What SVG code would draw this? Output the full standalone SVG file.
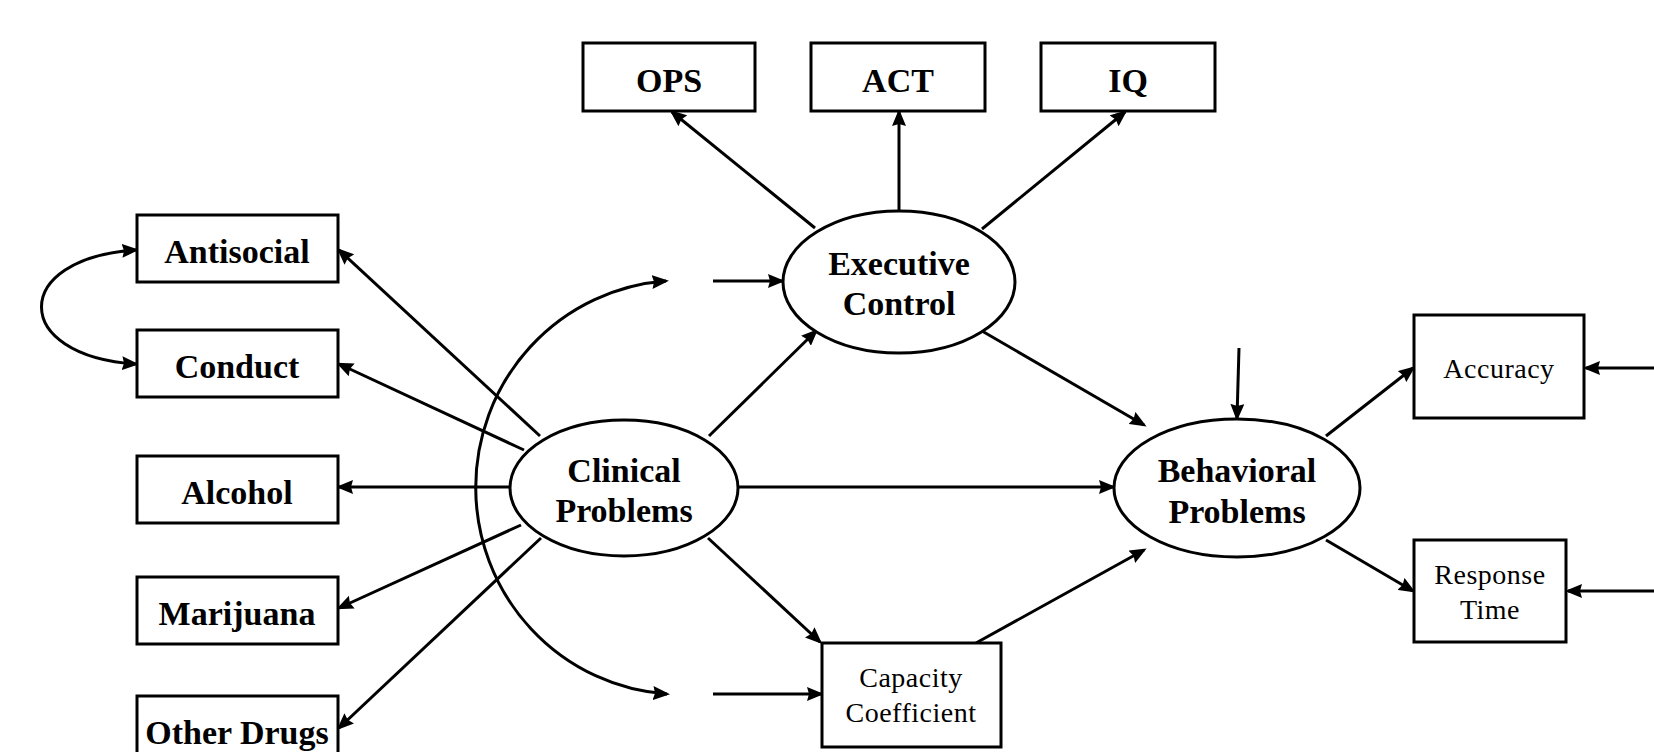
<svg xmlns="http://www.w3.org/2000/svg" width="1654" height="752" viewBox="0 0 1654 752">
<style>
.box{fill:#fff;stroke:#000;stroke-width:3}
.ell{fill:#fff;stroke:#000;stroke-width:3}
.ln{fill:none;stroke:#000;stroke-width:3;marker-end:url(#ah)}
.dbl{fill:none;stroke:#000;stroke-width:3;marker-end:url(#ah);marker-start:url(#ah2)}
.b{font-family:"Liberation Serif","Times New Roman",serif;font-weight:bold;font-size:34px;text-anchor:middle;fill:#000}
.r{font-family:"Liberation Serif","Times New Roman",serif;font-size:28px;letter-spacing:0.5px;text-anchor:middle;fill:#000}
</style>
<defs>
<marker id="ah" markerUnits="userSpaceOnUse" markerWidth="18" markerHeight="14" refX="14" refY="7" orient="auto"><path d="M0,0 L17,7 L0,14 L2,7 z" fill="#000"/></marker>
<marker id="ah2" markerUnits="userSpaceOnUse" markerWidth="18" markerHeight="14" refX="14" refY="7" orient="auto-start-reverse"><path d="M0,0 L17,7 L0,14 L2,7 z" fill="#000"/></marker>
</defs>
<rect width="1654" height="752" fill="#fff"/>
<g id="connectors">
<path class="ln" d="M815 228 L672 112"/>
<path class="ln" d="M899 211 L899 112"/>
<path class="ln" d="M982 229 L1125 112"/>
<path class="ln" d="M709 436 L816 331"/>
<path class="ln" d="M982 331 L1144 425"/>
<path class="ln" d="M738 487 L1113 487"/>
<path class="ln" d="M708 538 L820 642"/>
<path class="ln" d="M976 643 L1144 550"/>
<path class="ln" d="M1326 436 L1413 368"/>
<path class="ln" d="M1326 540 L1413 591"/>
<path class="ln" d="M1654 368 L1586 368"/>
<path class="ln" d="M1654 591 L1568 591"/>
<path class="ln" d="M1239 348 L1237 418"/>
<path class="ln" d="M540 436 L339 250"/>
<path class="ln" d="M524 450 L339 364"/>
<path class="ln" d="M510 487 L339 487"/>
<path class="ln" d="M521 525 L339 608"/>
<path class="ln" d="M541 538 L339 728"/>
<path class="dbl" d="M136 250 C10 258 10 356 136 364"/>
<path class="dbl" d="M666 281 A205 207 0 0 0 667 694"/>
<path class="ln" d="M713 281 L782 281"/>
<path class="ln" d="M713 694 L821 694"/>
</g>
<g id="ops"><rect class="box" x="583" y="43" width="172" height="68"/><text class="b" x="669" y="92">OPS</text></g>
<g id="act"><rect class="box" x="811" y="43" width="174" height="68"/><text class="b" x="898" y="92">ACT</text></g>
<g id="iq"><rect class="box" x="1041" y="43" width="174" height="68"/><text class="b" x="1128" y="92">IQ</text></g>
<g id="antisocial"><rect class="box" x="137" y="215" width="201" height="67"/><text class="b" x="237" y="263">Antisocial</text></g>
<g id="conduct"><rect class="box" x="137" y="330" width="201" height="67"/><text class="b" x="237" y="378">Conduct</text></g>
<g id="alcohol"><rect class="box" x="137" y="456" width="201" height="67"/><text class="b" x="237" y="504">Alcohol</text></g>
<g id="marijuana"><rect class="box" x="137" y="577" width="201" height="67"/><text class="b" x="237" y="625">Marijuana</text></g>
<g id="otherdrugs"><rect class="box" x="137" y="696" width="201" height="67"/><text class="b" x="237" y="744">Other Drugs</text></g>
<g id="executive"><ellipse class="ell" cx="899" cy="282" rx="116" ry="71"/><text class="b" x="899" y="275">Executive</text><text class="b" x="899" y="315">Control</text></g>
<g id="clinical"><ellipse class="ell" cx="624" cy="488" rx="114" ry="68"/><text class="b" x="624" y="482">Clinical</text><text class="b" x="624" y="522">Problems</text></g>
<g id="behavioral"><ellipse class="ell" cx="1237" cy="488" rx="123" ry="69"/><text class="b" x="1237" y="482">Behavioral</text><text class="b" x="1237" y="523">Problems</text></g>
<g id="capacity"><rect class="box" x="822" y="643" width="179" height="104"/><text class="r" x="911" y="687">Capacity</text><text class="r" x="911" y="722">Coefficient</text></g>
<g id="accuracy"><rect class="box" x="1414" y="315" width="170" height="103"/><text class="r" x="1499" y="378">Accuracy</text></g>
<g id="responsetime"><rect class="box" x="1414" y="540" width="152" height="102"/><text class="r" x="1490" y="584">Response</text><text class="r" x="1490" y="619">Time</text></g>
</svg>
